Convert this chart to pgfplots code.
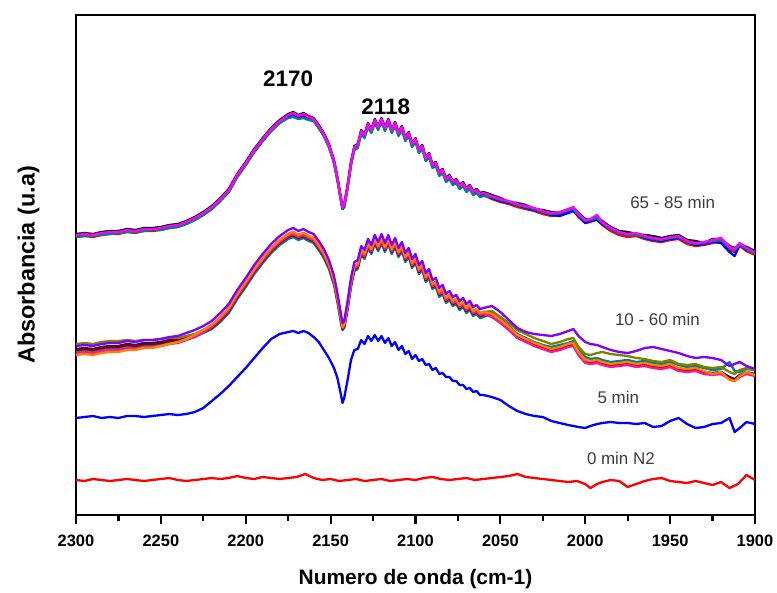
\documentclass[border=0pt]{standalone}
\usepackage{pgfplots}
\pgfplotsset{compat=1.18}
\usepackage{pgfplotstable}
\usepackage{fontspec}
\setmainfont{Liberation Sans}

\definecolor{cteal}{RGB}{0,128,128}
\definecolor{cnavy}{RGB}{0,0,128}
\definecolor{cmaroon}{RGB}{128,0,0}
\definecolor{colive}{RGB}{128,128,0}
\definecolor{cpink}{RGB}{255,20,147}
\definecolor{corange}{RGB}{255,128,0}
\definecolor{cpurple}{RGB}{128,0,255}
\definecolor{cmagenta}{RGB}{255,0,255}
\definecolor{cred}{RGB}{255,0,0}
\definecolor{cblue}{RGB}{0,0,255}
\definecolor{labelgray}{RGB}{60,60,60}

% 65 - 85 min spectra (offset trace, absorbance drawn downward-positive scale)
\pgfplotstableread{
wn k r b t m
2300 234 237 236 237 235
2295 233 236 235 236 234
2290 234 237 236 236 235
2285 232 235 234 235 233
2280 231 234 233 234 232
2275 231 234 233 233 232
2270 229 232 231 232 230
2265 230 233 232 232 231
2260 228 231 230 231 229
2255 228 231 230 230 229
2250 227 230 229 230 228
2245 225 228 227 228 226
2240 224 227 226 227 225
2235 221 224 223 224 222
2230 217 220 219 220 218
2225 212 215 214 215 213
2220 206 209 208 209 207
2215 198 201 200 201 199
2210 189 192 191 192 190
2205 174 177 176 177 175
2200 162 165 164 165 163
2195 149 152 151 152 150
2190 138 141 140 141 139
2185 128 131 130 131 129
2180 120 123 122 123 121
2175 114 117 116 118 115
2172 112 115 114 117 113
2169 115 118 117 119 116
2166 113 116 115 118 114
2163 116 119 118 120 117
2160 118 121 120 121 119
2157 125 128 127 128 126
2154 133 136 135 136 134
2151 144 147 146 147 145
2148 160 163 162 163 161
2146 177 180 179 180 178
2144 197 200 199 200 198
2143 206 209 209 209 207
2142 204 207 207 207 205
2140 185 188 187 188 186
2138 162 165 164 165 163
2136 146 149 148 150 147
2134 144 147 146 148 145
2132 130 133 132 134 131
2130 134 137 136 138 135
2128 123 126 125 127 124
2126 129 132 131 133 130
2124 119 122 121 123 120
2122 126 129 128 130 127
2120 118 121 120 122 119
2118 127 130 129 131 128
2116 119 122 121 123 120
2114 129 132 131 133 130
2112 122 125 124 126 123
2110 132 135 134 136 133
2108 126 129 128 130 127
2106 137 140 139 141 138
2104 132 135 134 136 133
2102 143 146 145 147 144
2100 138 141 140 142 139
2098 149 152 151 153 150
2096 145 148 147 149 146
2094 157 160 159 161 158
2092 153 156 155 157 154
2090 164 167 166 168 165
2088 162 165 164 166 163
2086 172 175 174 176 173
2084 169 172 171 173 170
2082 178 181 180 182 179
2080 175 178 177 179 176
2078 181 184 183 185 182
2076 179 182 181 183 180
2074 185 188 187 189 186
2072 182 185 184 186 183
2070 188 191 190 192 189
2068 185 188 187 189 186
2066 191 194 193 195 192
2064 189 192 191 193 190
2062 193 196 195 197 194
2060 192 195 194 196 193
2055 195 199 198 197 196
2050 198 202 201 200 199
2045 202 204 203 202 201
2040 203 207 205 205 204
2035 205 209 208 207 206
2030 209 211 210 209 208
2025 210 214 212 212 211
2020 212 216 215 214 213
2015 213 215 216 213 212
2010 210 212 213 210 209
2007 208 210 211 209 207
2004 213 217 216 215 214
2000 219 223 223 221 220
1997 220 222 221 220 219
1993 217 219 220 218 215
1990 221 225 224 223 222
1985 227 231 229 229 228
1980 231 235 233 233 232
1975 232 237 235 235 234
1970 234 236 234 235 233
1965 235 239 238 237 236
1960 236 241 240 239 238
1955 238 242 241 240 239
1950 236 240 239 238 237
1945 235 239 238 237 236
1940 240 244 242 242 241
1935 241 246 245 244 243
1930 243 245 244 243 242
1925 239 243 242 241 240
1920 239 241 243 240 238
1915 246 250 252 248 247
1912 248 252 256 250 249
1909 244 246 245 245 243
1905 247 251 250 249 248
1900 251 255 253 254 252
}\latergroup

% 10 - 60 min spectra
\pgfplotstableread{
wn te na ma ol pk or pu
2300 351 349 350 344 353 355 346
2295 350 348 349 343 352 354 345
2290 351 349 350 344 353 355 346
2285 349 347 348 342 351 353 344
2280 348 346 347 341 350 352 343
2275 348 346 347 341 350 352 343
2270 346 344 345 340 348 350 341
2265 347 345 346 341 349 350 342
2260 345 343 344 340 347 348 340
2255 345 343 344 340 347 348 340
2250 344 342 343 339 346 346 339
2245 342 340 341 338 344 344 337
2240 341 339 340 338 343 342 336
2235 339 337 338 336 340 339 333
2230 337 335 336 334 337 335 330
2225 333 331 332 330 332 330 326
2220 329 327 328 325 327 325 321
2215 322 319 320 317 319 317 313
2210 313 310 311 308 310 308 304
2205 299 296 297 294 296 294 290
2200 287 284 285 282 284 282 278
2195 274 271 272 269 271 269 265
2190 263 260 261 258 260 258 254
2185 253 250 251 248 250 248 244
2180 245 242 243 240 242 240 236
2175 239 236 237 234 236 234 230
2172 237 234 235 232 234 232 228
2169 240 237 238 235 237 235 231
2166 238 235 236 233 235 233 229
2163 241 238 239 236 238 236 232
2160 243 240 241 238 240 238 234
2157 250 247 248 245 247 245 241
2154 258 255 256 253 255 253 249
2151 269 266 267 264 266 264 260
2148 285 282 283 280 282 280 276
2146 302 299 300 297 299 297 293
2144 322 319 320 317 319 317 313
2143 330 328 329 326 328 327 323
2142 328 326 327 324 326 325 321
2140 310 307 308 305 307 305 301
2138 287 284 285 282 284 282 278
2136 271 268 269 266 268 266 262
2134 269 266 267 264 266 264 260
2132 255 252 253 250 252 250 246
2130 259 256 257 254 256 254 250
2128 248 245 246 243 245 243 239
2126 254 251 252 249 251 249 245
2124 244 241 242 239 241 239 235
2122 251 248 249 246 248 246 242
2120 243 240 241 238 240 238 234
2118 252 249 250 247 249 247 243
2116 244 241 242 239 241 239 235
2114 254 251 252 249 251 249 245
2112 247 244 245 242 244 242 238
2110 257 254 255 252 254 252 248
2108 251 248 249 246 248 246 242
2106 262 259 260 257 259 257 253
2104 257 254 255 252 254 252 248
2102 268 265 266 263 265 263 259
2100 263 260 261 258 260 258 254
2098 274 271 272 269 271 269 265
2096 270 267 268 265 267 265 261
2094 282 279 280 277 279 277 273
2092 278 275 276 273 275 273 269
2090 289 286 287 284 286 284 280
2088 287 284 285 282 284 282 278
2086 297 294 295 292 294 292 288
2084 294 291 292 289 291 289 285
2082 303 300 301 298 300 298 294
2080 300 297 298 295 297 295 291
2078 306 303 304 301 303 301 297
2076 304 301 302 299 301 299 295
2074 310 307 308 305 307 305 301
2072 307 304 305 302 304 302 298
2070 313 310 311 308 310 308 304
2068 310 307 308 305 307 305 301
2066 316 313 314 311 313 311 307
2064 314 311 312 309 311 309 305
2062 318 315 316 313 315 313 309
2060 317 314 315 312 314 312 308
2055 313 315 316 311 317 314 306
2050 319 321 322 317 323 320 312
2045 326 328 329 323 330 327 320
2040 334 336 337 330 338 335 328
2035 338 340 341 334 342 339 332
2030 342 344 345 338 346 343 334
2025 345 347 348 341 349 346 335
2020 347 350 351 344 352 349 336
2015 345 348 349 342 350 347 334
2010 343 345 346 339 347 344 331
2007 341 344 345 338 346 343 329
2004 349 353 354 347 355 352 336
2000 357 361 362 354 363 360 342
1997 359 362 363 355 364 361 344
1993 358 361 362 353 363 360 345
1990 360 363 364 352 365 362 347
1985 362 365 366 354 367 364 350
1980 361 364 365 355 366 363 352
1975 360 363 364 356 365 362 353
1970 362 365 366 358 367 364 351
1965 361 364 365 359 366 363 348
1960 363 366 367 361 368 365 347
1955 364 367 368 362 369 366 349
1950 362 365 366 360 367 364 351
1945 365 369 370 364 371 368 353
1940 367 370 371 365 372 369 356
1935 366 369 370 364 371 368 358
1930 368 372 373 367 374 371 357
1925 370 373 374 368 375 374 358
1920 369 372 373 367 374 372 360
1915 362 377 378 372 379 380 366
1912 371 379 380 374 381 381 364
1909 372 375 376 370 377 376 362
1905 369 372 373 368 374 372 366
1900 370 374 375 370 376 375 369
}\midgroup

\begin{document}
\begin{tikzpicture}
\begin{axis}[
  name=ax,
  scale only axis,
  width=679bp, height=500bp,
  xmin=1900, xmax=2300, x dir=reverse,
  ymin=15, ymax=515, y dir=reverse,
  ytick=\empty,
  xtick={1900,1950,...,2300},
  minor x tick num=1,
  xtick pos=left, xticklabel pos=left,
  tick align=outside,
  major tick length=9bp, minor tick length=6bp,
  every tick/.style={black, line width=2.2bp},
  axis line style={line width=2.4bp},
  /pgf/number format/1000 sep={},
  /pgf/number format/assume math mode=true,
  xticklabel style={font=\bfseries\fontsize{16.5}{16.5}\selectfont, inner sep=2bp, yshift=-9bp},
  xlabel={Numero de onda (cm-1)},
  xlabel style={font=\bfseries\fontsize{21}{21}\selectfont, yshift=-17bp},
  ylabel={Absorbancia (u.a)},
  ylabel style={font=\bfseries\fontsize{23.5}{23.5}\selectfont, at={(axis description cs:-0.070,0.5)}, anchor=center},
  every axis plot/.append style={line width=2.3bp, line join=round, mark=none},
]
% 0 min N2
\addplot[cred] coordinates {
(2300,480) (2295,481) (2290,479) (2285,480) (2280,481) (2275,480) (2270,479) (2265,480)
(2260,481) (2255,480) (2250,479) (2245,478) (2240,480) (2235,481) (2230,480) (2225,479)
(2220,478) (2215,479) (2210,478) (2205,476) (2200,478) (2195,479) (2190,477) (2185,478)
(2180,479) (2175,478) (2170,477) (2165,474) (2160,478) (2155,480) (2150,479) (2145,481)
(2140,480) (2135,479) (2130,481) (2125,480) (2120,479) (2115,481) (2110,480) (2105,479)
(2100,480) (2095,478) (2090,477) (2085,479) (2080,480) (2075,479) (2070,478) (2065,480)
(2060,479) (2055,478) (2050,477) (2045,476) (2040,474) (2035,477) (2030,478) (2025,479)
(2020,480) (2015,481) (2010,482) (2005,481) (2000,484) (1997,488) (1993,484) (1990,482)
(1985,480) (1980,481) (1975,487) (1970,484) (1965,481) (1960,479) (1955,478) (1950,481)
(1945,482) (1940,483) (1935,481) (1930,483) (1925,485) (1920,482) (1915,488) (1910,484)
(1905,475) (1902,478) (1900,480)
};
% 5 min
\addplot[cblue] coordinates {
(2300,418) (2295,417) (2290,416) (2285,418) (2280,417) (2275,418) (2270,416) (2265,416)
(2260,417) (2255,416) (2250,415) (2245,414) (2240,415) (2235,414) (2230,412) (2225,408)
(2220,401) (2215,394) (2210,386) (2205,377) (2200,368) (2195,358) (2190,348) (2185,339)
(2180,334) (2175,332) (2172,331) (2169,333) (2166,331) (2163,333) (2160,337) (2157,342)
(2154,350) (2151,358) (2148,368) (2146,378) (2144,394) (2143,403) (2142,398) (2140,380)
(2138,360) (2136,350) (2134,349) (2132,340) (2130,344) (2128,336) (2126,341) (2124,335)
(2122,341) (2120,336) (2118,343) (2116,338) (2114,346) (2112,342) (2110,350) (2108,346)
(2106,354) (2104,351) (2102,359) (2100,355) (2098,361) (2096,359) (2094,365) (2092,364)
(2090,370) (2088,368) (2086,374) (2084,373) (2082,377) (2080,377) (2078,381) (2076,381)
(2074,385) (2072,385) (2070,389) (2068,388) (2066,392) (2064,391) (2062,395) (2060,395)
(2055,397) (2050,400) (2045,406) (2040,411) (2035,414) (2030,416) (2025,417) (2020,421)
(2015,423) (2010,425) (2007,426) (2004,427) (2000,428) (1997,426) (1993,424) (1990,423)
(1985,422) (1980,423) (1975,423) (1970,424) (1965,423) (1960,427) (1955,426) (1950,421)
(1945,418) (1940,424) (1935,428) (1930,427) (1925,424) (1920,423) (1915,418) (1912,432)
(1909,428) (1905,422) (1900,424)
};
% 10 - 60 min
\addplot[cteal]   table[x=wn, y=te] {\midgroup};
\addplot[cnavy]   table[x=wn, y=na] {\midgroup};
\addplot[cmaroon] table[x=wn, y=ma] {\midgroup};
\addplot[colive]  table[x=wn, y=ol] {\midgroup};
\addplot[cpink]   table[x=wn, y=pk] {\midgroup};
\addplot[corange] table[x=wn, y=or] {\midgroup};
\addplot[cpurple] table[x=wn, y=pu] {\midgroup};
% 65 - 85 min
\addplot[black]    table[x=wn, y=k] {\latergroup};
\addplot[cred]     table[x=wn, y=r] {\latergroup};
\addplot[cblue]    table[x=wn, y=b] {\latergroup};
\addplot[cteal]    table[x=wn, y=t] {\latergroup};
\addplot[cmagenta] table[x=wn, y=m] {\latergroup};

% band positions and series labels
\node[font=\bfseries\fontsize{22.5}{22.5}\selectfont] at (axis cs:2175,79) {2170};
\node[font=\bfseries\fontsize{22.5}{22.5}\selectfont] at (axis cs:2117.5,107) {2118};
\node[font=\fontsize{17}{17}\selectfont, text=labelgray] at (axis cs:1948.5,202) {65 - 85 min};
\node[font=\fontsize{17}{17}\selectfont, text=labelgray] at (axis cs:1957.5,319) {10 - 60 min};
\node[font=\fontsize{17}{17}\selectfont, text=labelgray] at (axis cs:1980.5,397) {5 min};
\node[font=\fontsize{17}{17}\selectfont, text=labelgray] at (axis cs:1979,458) {0 min N2};
\end{axis}
\path ([xshift=-76bp,yshift=-73bp]ax.south west) rectangle ([xshift=22bp,yshift=15bp]ax.north east);
\end{tikzpicture}
\end{document}
